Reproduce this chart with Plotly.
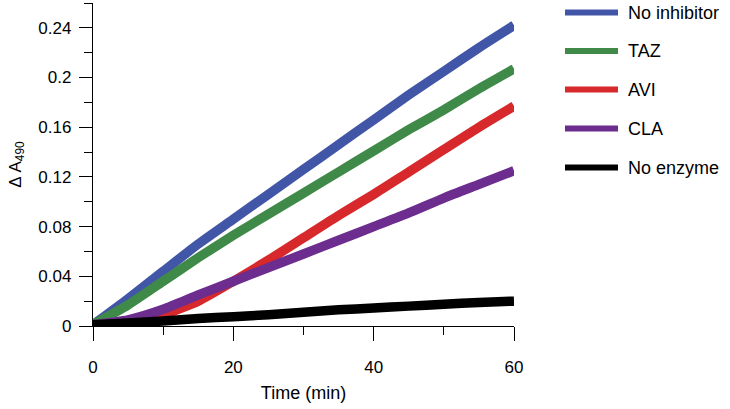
import plotly.graph_objects as go

# Time points (min)
time_min = [0, 5, 10, 15, 20, 25, 30, 35, 40, 45, 50, 55, 60]

# Series values (Delta A490)
no_inhibitor = [0.001, 0.022, 0.044, 0.066, 0.086, 0.106, 0.126, 0.146, 0.166, 0.186, 0.205, 0.224, 0.242]
taz = [0.001, 0.017, 0.036, 0.055, 0.073, 0.090, 0.107, 0.124, 0.141, 0.158, 0.174, 0.191, 0.207]
avi = [0.001, 0.002, 0.009, 0.020, 0.036, 0.053, 0.071, 0.089, 0.106, 0.124, 0.142, 0.160, 0.177]
cla = [0.001, 0.005, 0.0135, 0.025, 0.036, 0.047, 0.058, 0.069, 0.080, 0.091, 0.103, 0.114, 0.125]
no_enzyme = [0.001, 0.0025, 0.004, 0.006, 0.0075, 0.009, 0.011, 0.013, 0.0145, 0.016, 0.0175, 0.019, 0.020]

series_names = ["No inhibitor", "TAZ", "AVI", "CLA", "No enzyme"]
series_values = [no_inhibitor, taz, avi, cla, no_enzyme]
series_colors = ["#4256A8", "#3F8A48", "#D7282B", "#6C2D8E", "#000000"]

y_tick_vals = [0, 0.04, 0.08, 0.12, 0.16, 0.2, 0.24]
y_tick_text = ["0", "0.04", "0.08", "0.12", "0.16", "0.2", "0.24"]
x_tick_vals = [0, 20, 40, 60]
x_tick_text = ["0", "20", "40", "60"]

FONT = "Liberation Sans, Arial, sans-serif"

fig = go.Figure()
for name, vals, col in zip(series_names, series_values, series_colors):
    fig.add_trace(go.Scatter(
        x=time_min, y=vals, mode="lines", name=name,
        line=dict(color=col, width=9.5, shape="spline", smoothing=0.6),
        showlegend=False,
    ))

# manual legend (pixel layout converted to paper coords)
plot_l, plot_r, plot_t, plot_b = 93, 514, 3, 326
pw, ph = plot_r - plot_l, plot_b - plot_t
row_y = [12.5, 51, 89.5, 128.5, 167.5]
for name, col, py in zip(series_names, series_colors, row_y):
    yp = (plot_b - py) / ph
    fig.add_shape(type="line", xref="paper", yref="paper",
                  x0=(565 - plot_l) / pw, x1=(618 - plot_l) / pw, y0=yp, y1=yp,
                  line=dict(color=col, width=6))
    fig.add_annotation(xref="paper", yref="paper", x=(626 - plot_l) / pw, y=yp,
                       text=name, showarrow=False, xanchor="left", yanchor="middle",
                       font=dict(family=FONT, size=18, color="black"))

fig.update_layout(
    width=730, height=409,
    margin=dict(l=plot_l, r=730 - plot_r, t=plot_t, b=409 - plot_b),
    paper_bgcolor="white", plot_bgcolor="white",
    font=dict(family=FONT, size=17, color="black"),
    xaxis=dict(
        range=[0, 60], tickvals=x_tick_vals, ticktext=x_tick_text,
        ticks="outside", ticklen=14, tickwidth=1.3, tickcolor="black",
        minor=dict(ticks="outside", ticklen=8, dtick=10, tickwidth=1.3, tickcolor="black"),
        showline=True, linecolor="black", linewidth=1.3,
        showgrid=False, zeroline=False, automargin=False,
        ticklabelstandoff=11,
        tickfont=dict(size=17),
        title=dict(text="Time (min)", font=dict(size=18), standoff=10),
    ),
    yaxis=dict(
        range=[0, 0.26], tickvals=y_tick_vals, ticktext=y_tick_text,
        ticks="outside", ticklen=13, tickwidth=1.3, tickcolor="black",
        minor=dict(ticks="outside", ticklen=8, dtick=0.02, tickwidth=1.3, tickcolor="black"),
        showline=True, linecolor="black", linewidth=1.3,
        showgrid=False, zeroline=False, automargin=False,
        ticklabelstandoff=4,
        tickfont=dict(size=17),
        title=dict(text="Δ A<sub>490</sub>", font=dict(size=17), standoff=12),
    ),
)

fig.write_html("out.html", config={"displayModeBar": False},
               post_script="document.body.style.margin='0';document.body.style.padding='0';")
